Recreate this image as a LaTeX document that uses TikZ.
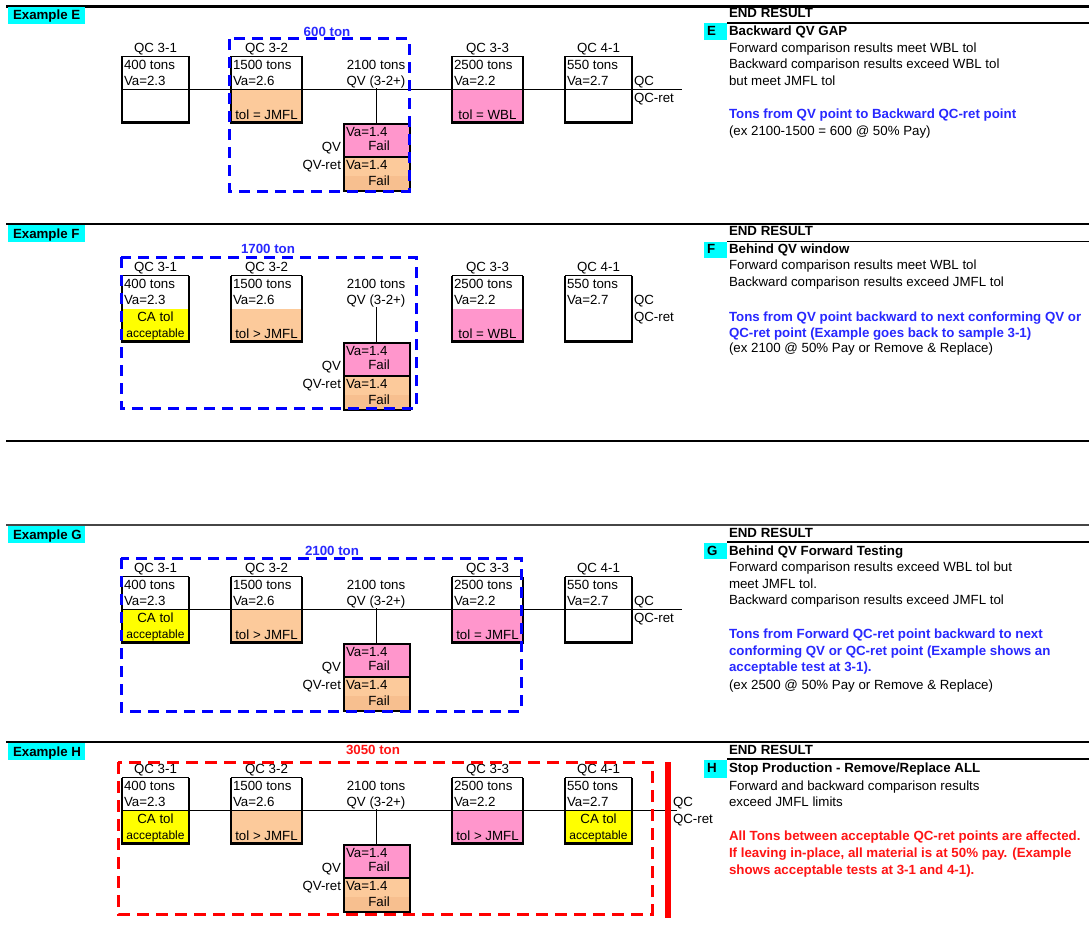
\documentclass[tikz,border=0pt]{standalone}
\usepackage{fontspec}
\setmainfont{Liberation Sans}
\definecolor{cyanL}{RGB}{0,255,255}
\definecolor{tanA}{RGB}{252,202,155}
\definecolor{tanB}{RGB}{247,191,143}
\definecolor{pinkF}{RGB}{255,150,204}
\definecolor{yelF}{RGB}{255,255,0}
\definecolor{blueT}{RGB}{40,40,255}
\definecolor{blueD}{RGB}{0,0,255}
\definecolor{redT}{RGB}{255,20,20}
\definecolor{sepgray}{RGB}{70,70,70}
\newcommand\accfont{\fontsize{12}{13}\selectfont}
\tikzset{
 txt/.style={inner sep=0pt, outer sep=0pt, font=\fontsize{13.3}{15}\selectfont, text=black},
 btxt/.style={txt, font=\fontsize{13.3}{15}\selectfont\bfseries},
 cellbox/.style={rectangle, inner sep=0pt, outer sep=0pt, minimum height=66pt},
 thinedge/.style={line width=0.8pt},
 thickedge/.style={line width=2.3pt},
 conn/.style={line width=1pt},
 bluewin/.style={draw=blueD, line width=3pt, dash pattern=on 11pt off 7pt},
 redwin/.style={draw=red, line width=3pt, dash pattern=on 12pt off 7pt},
 sep/.style={line width=2.2pt},
 hsep/.style={line width=1.4pt}
}
% #1 name #2 left x #3 width #4 fill #5 tons #6 Va #7 upper lower-text #8 lower text #9 label
\newcommand\QCcell[9]{%
 \node[cellbox, minimum width=#3pt, anchor=north west] (#1) at (#2,56.5) {};
 \fill[#4] (#1.west) rectangle (#1.south east);
 \draw[thinedge] (#1.north west) -- (#1.north east);
 \draw[thickedge] (#1.north west) -- (#1.south west) -- (#1.south east) -- (#1.north east);
 \node[txt, anchor=base west] (#1-t) at (#2+2,69.5) {#5};
 \node[txt, anchor=base west] (#1-v) at (#2+2,85.5) {#6};
 \node[txt, anchor=base] (#1-u) at (#2+#3/2,102.5) {#7};
 \node[txt, anchor=base] (#1-l) at (#2+#3/2,119.5) {#8};
 \node[txt, anchor=base] (#1-q) at (#2+#3/2,52.5) {#9};
}
\newcommand\QVpair[1]{%
 \node[txt, anchor=base] (#1-tons) at (376,69.5) {2100 tons};
 \node[txt, anchor=base] (#1-qvl) at (376,85.5) {QV (3-2+)};
 \node[cellbox, minimum width=66pt, minimum height=33pt, anchor=north west, fill=pinkF] (#1-qv) at (344,124) {};
 \node[cellbox, minimum width=66pt, minimum height=34pt, anchor=north west, fill=tanA] (#1-qvr) at (344,157) {};
 \fill[tanB] ([yshift=-2pt]#1-qvr.west) rectangle (#1-qvr.south east);
 \draw[line width=2.5pt] (#1-qv.north west) rectangle (#1-qvr.south east);
 \draw[line width=2.5pt] (#1-qv.south west) -- (#1-qv.south east);
 \node[txt, anchor=base west] (#1-qva) at (346,136.5) {Va=1.4};
 \node[txt, anchor=base] (#1-qvf) at (379,150.5) {Fail};
 \node[txt, anchor=base west] (#1-qra) at (346,169.5) {Va=1.4};
 \node[txt, anchor=base] (#1-qrf) at (379,185.5) {Fail};
 \node[txt, anchor=base east] (#1-qvlab) at (341,151.5) {QV};
 \node[txt, anchor=base east] (#1-qrlab) at (341,169.5) {QV-ret};
 \coordinate (#1-vt) at (376,88);
 \draw[conn] (#1-vt) -- (#1-vt |- #1-qv.north);
}
\begin{document}
\begin{tikzpicture}[x=1pt,y=-1pt]
\useasboundingbox (0,0) rectangle (1089,942);
\fill[white] (0,0) rectangle (1089,942);

% ---------------- Example E
\begin{scope}
\QCcell{E31}{122}{67}{white}{400 tons}{Va=2.3}{}{}{QC 3-1}
\QCcell{E32}{231}{71}{tanA}{1500 tons}{Va=2.6}{}{tol = JMFL}{QC 3-2}
\QCcell{E33}{452}{71}{pinkF}{2500 tons}{Va=2.2}{}{tol = WBL}{QC 3-3}
\QCcell{E41}{565}{67}{white}{550 tons}{Va=2.7}{}{}{QC 4-1}
\coordinate (E-hl) at (122,89.5); \coordinate (E-hr) at (682,89.5);
\draw[conn] (E-hl) -- (E-hr);
\QVpair{E}
\node[txt, anchor=base west] (E-qc) at (634,85.5) {QC};
\node[txt, anchor=base west] (E-qcr) at (634,102.5) {QC-ret};
\end{scope}

% ---------------- Example F
\begin{scope}[yshift=-219pt]
\QCcell{F31}{122}{67}{yelF}{400 tons}{Va=2.3}{CA tol}{\raisebox{1.5pt}{\accfont acceptable}}{QC 3-1}
\QCcell{F32}{231}{71}{tanA}{1500 tons}{Va=2.6}{}{tol > JMFL}{QC 3-2}
\QCcell{F33}{452}{71}{pinkF}{2500 tons}{Va=2.2}{}{tol = WBL}{QC 3-3}
\QCcell{F41}{565}{67}{white}{550 tons}{Va=2.7}{}{}{QC 4-1}
\QVpair{F}
\node[txt, anchor=base west] (F-qc) at (634,85.5) {QC};
\node[txt, anchor=base west] (F-qcr) at (634,102.5) {QC-ret};
\end{scope}

% ---------------- Example G
\begin{scope}[yshift=-520pt]
\QCcell{G31}{122}{67}{yelF}{400 tons}{Va=2.3}{CA tol}{\raisebox{1.5pt}{\accfont acceptable}}{QC 3-1}
\QCcell{G32}{231}{71}{tanA}{1500 tons}{Va=2.6}{}{tol > JMFL}{QC 3-2}
\QCcell{G33}{452}{71}{pinkF}{2500 tons}{Va=2.2}{}{tol = JMFL}{QC 3-3}
\QCcell{G41}{565}{67}{white}{550 tons}{Va=2.7}{}{}{QC 4-1}
\coordinate (G-hl) at (122,89.5); \coordinate (G-hr) at (682,89.5);
\draw[conn] (G-hl) -- (G-hr);
\QVpair{G}
\node[txt, anchor=base west] (G-qc) at (634,85.5) {QC};
\node[txt, anchor=base west] (G-qcr) at (634,102.5) {QC-ret};
\end{scope}

% ---------------- Example H
\begin{scope}[yshift=-721pt]
\QCcell{H31}{122}{67}{yelF}{400 tons}{Va=2.3}{CA tol}{\raisebox{1.5pt}{\accfont acceptable}}{QC 3-1}
\QCcell{H32}{231}{71}{tanA}{1500 tons}{Va=2.6}{}{tol > JMFL}{QC 3-2}
\QCcell{H33}{452}{71}{pinkF}{2500 tons}{Va=2.2}{}{tol > JMFL}{QC 3-3}
\QCcell{H41}{565}{67}{yelF}{550 tons}{Va=2.7}{CA tol}{\raisebox{1.5pt}{\accfont acceptable}}{QC 4-1}
\coordinate (H-hl) at (122,89.5); \coordinate (H-hr) at (677,89.5);
\draw[conn] (H-hl) -- (H-hr);
\QVpair{H}
\node[txt, anchor=base west] (H-qc) at (673,85.5) {QC};
\node[txt, anchor=base west] (H-qcr) at (673,102.5) {QC-ret};
\end{scope}

% ---------------- windows
\draw[bluewin] (229,39) rectangle (409,191);
\node[btxt, text=blueT, anchor=base] (E-win) at (327,36.5) {600 ton};
\draw[bluewin] (121,257) rectangle (416,408);
\node[btxt, text=blueT, anchor=base] (F-win) at (268,253.5) {1700 ton};
\draw[bluewin] (121,558) rectangle (521,711);
\node[btxt, text=blueT, anchor=base] (G-win) at (332,555.5) {2100 ton};
\draw[redwin] (118,762) rectangle (652,914);
\node[btxt, text=redT, anchor=base] (H-win) at (373,754.5) {3050 ton};
\draw[red, line width=5.5pt] (668,762) -- (668,918);

% ---------------- separators
\draw[sep] (6,6.5) -- (1089,6.5);
\draw[sep] (6,224) -- (1089,224);
\draw[sep] (6,441) -- (1089,441);
\draw[sep, sepgray] (6,525) -- (1089,525);
\draw[sep] (6,742) -- (1089,742);
\draw[hsep] (727,23) -- (1089,23);
\draw[hsep] (727,241.5) -- (1089,241.5);
\draw[hsep] (727,542) -- (1089,542);
\draw[hsep] (727,759) -- (1089,759);

% ---------------- example labels
\fill[cyanL] (8,7.5) rectangle (85,24);
\node[btxt, anchor=base west] (exE) at (13,20) {Example E};
\fill[cyanL] (8,225) rectangle (85,242);
\node[btxt, anchor=base west] (exF) at (13,238) {Example F};
\fill[cyanL] (8,526) rectangle (85,543);
\node[btxt, anchor=base west] (exG) at (13,539) {Example G};
\fill[cyanL] (8,743) rectangle (85,760);
\node[btxt, anchor=base west] (exH) at (13,756) {Example H};

% ---------------- right column E
\node[btxt, anchor=base west] (rE0) at (729,17.5) {END RESULT};
\fill[cyanL] (704,23.5) rectangle (727,40);
\node[btxt, anchor=base west] (rEl) at (707,35.5) {E};
\node[btxt, anchor=base west] (rE1) at (729,35.5) {Backward QV GAP};
\node[txt, anchor=base west] (rE2) at (729,52.5) {Forward comparison results meet WBL tol};
\node[txt, anchor=base west] (rE3) at (729,68.5) {Backward comparison results exceed WBL tol};
\node[txt, anchor=base west] (rE4) at (729,85.5) {but meet JMFL tol};
\node[btxt, text=blueT, anchor=base west] (rE5) at (729,118.5) {Tons from QV point to Backward QC-ret point};
\node[txt, anchor=base west] (rE6) at (729,135.5) {(ex 2100-1500 = 600 @ 50\% Pay)};

% ---------------- right column F
\node[btxt, anchor=base west] (rF0) at (729,235.5) {END RESULT};
\fill[cyanL] (704,242) rectangle (727,258);
\node[btxt, anchor=base west] (rFl) at (707,253.5) {F};
\node[btxt, anchor=base west] (rF1) at (729,253.5) {Behind QV window};
\node[txt, anchor=base west] (rF2) at (729,269.5) {Forward comparison results meet WBL tol};
\node[txt, anchor=base west] (rF3) at (729,286.5) {Backward comparison results exceed JMFL tol};
\node[btxt, text=blueT, anchor=base west] (rF4) at (729,321.5) {Tons from QV point backward to next conforming QV or};
\node[btxt, text=blueT, anchor=base west] (rF5) at (729,337.5) {QC-ret point (Example goes back to sample 3-1)};
\node[txt, anchor=base west] (rF6) at (729,352.5) {(ex 2100 @ 50\% Pay or Remove \& Replace)};

% ---------------- right column G
\node[btxt, anchor=base west] (rG0) at (729,537.5) {END RESULT};
\fill[cyanL] (704,542.5) rectangle (727,559);
\node[btxt, anchor=base west] (rGl) at (707,555.5) {G};
\node[btxt, anchor=base west] (rG1) at (729,555.5) {Behind QV Forward Testing};
\node[txt, anchor=base west] (rG2) at (729,571.5) {Forward comparison results exceed WBL tol but};
\node[txt, anchor=base west] (rG3) at (729,588.5) {meet JMFL tol.};
\node[txt, anchor=base west] (rG4) at (729,604.5) {Backward comparison results exceed JMFL tol};
\node[btxt, text=blueT, anchor=base west] (rG5) at (729,638.5) {Tons from Forward QC-ret point backward to next};
\node[btxt, text=blueT, anchor=base west] (rG6) at (729,655.5) {conforming QV or QC-ret point (Example shows an};
\node[btxt, text=blueT, anchor=base west] (rG7) at (729,671.5) {acceptable test at 3-1).};
\node[txt, anchor=base west] (rG8) at (729,689.5) {(ex 2500 @ 50\% Pay or Remove \& Replace)};

% ---------------- right column H
\node[btxt, anchor=base west] (rH0) at (729,754.5) {END RESULT};
\fill[cyanL] (704,759.5) rectangle (727,778);
\node[btxt, anchor=base west] (rHl) at (707,772.5) {H};
\node[btxt, anchor=base west] (rH1) at (729,772.5) {Stop Production - Remove/Replace ALL};
\node[txt, anchor=base west] (rH2) at (729,790.5) {Forward and backward comparison results};
\node[txt, anchor=base west] (rH3) at (729,806.5) {exceed JMFL limits};
\node[btxt, text=redT, anchor=base west] (rH4) at (729,840.5) {All Tons between acceptable QC-ret points are affected.};
\node[btxt, text=redT, anchor=base west] (rH5) at (729,857.5) {If leaving in-place, all material is at 50\% pay. (Example};
\node[btxt, text=redT, anchor=base west] (rH6) at (729,874.5) {shows acceptable tests at 3-1 and 4-1).};
\end{tikzpicture}
\end{document}
